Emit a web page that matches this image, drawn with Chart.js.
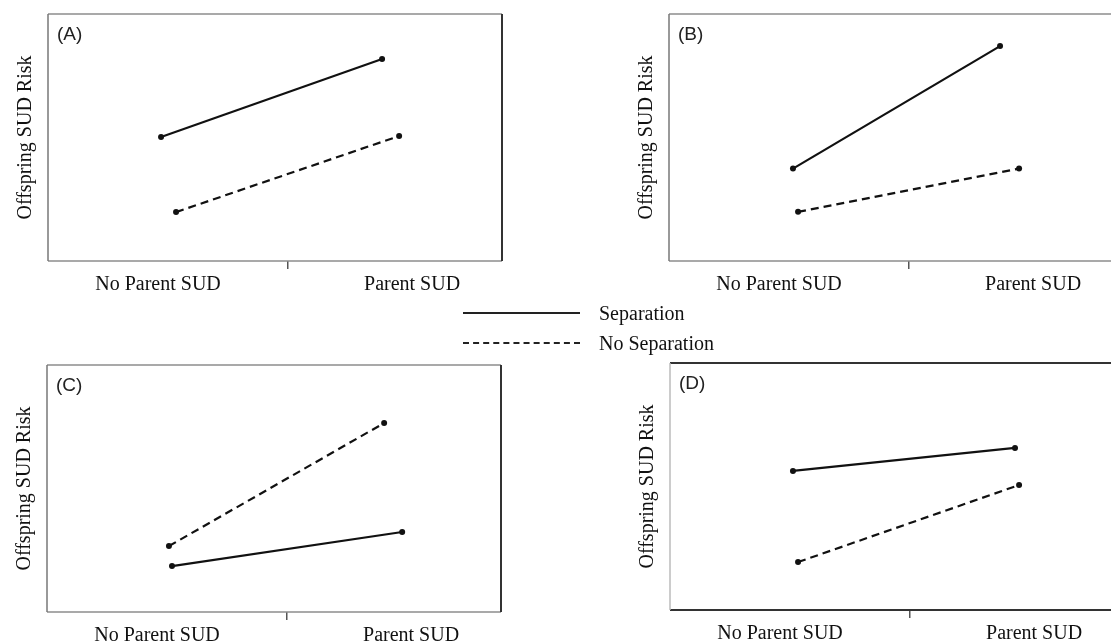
<!DOCTYPE html>
<html>
<head>
<meta charset="utf-8">
<script src="https://cdn.jsdelivr.net/npm/chart.js@4/dist/chart.umd.min.js"></script>
<style>
  html, body { margin: 0; padding: 0; background: #fff; }
  body { width: 1111px; height: 643px; position: relative; overflow: hidden; }
  .panel { position: absolute; width: 510px; height: 300px; }
  .legend { position: absolute; left: 463px; font-family: "Liberation Serif", "Times New Roman", serif; font-size: 20px; color: #111; }
  .legend .row { position: absolute; left: 0; white-space: nowrap; }
  .legend .swatch { position: absolute; left: 0; width: 117px; height: 0; }
  .legend .txt { position: absolute; left: 136px; top: -10px; }
</style>
</head>
<body>
<div class="panel" style="left:0;top:0"><canvas id="chartA" width="510" height="300"></canvas></div>
<div class="panel" style="left:621px;top:0"><canvas id="chartB" width="510" height="300"></canvas></div>
<div class="panel" style="left:-1px;top:351px"><canvas id="chartC" width="510" height="300"></canvas></div>
<div class="panel" style="left:622px;top:349px"><canvas id="chartD" width="510" height="300"></canvas></div>
<div class="legend" style="top:0">
  <div class="row" style="top:312px"><div class="swatch" style="border-top:2px solid #222"></div><span class="txt">Separation</span></div>
  <div class="row" style="top:342px"><div class="swatch" style="border-top:2px dashed #222"></div><span class="txt">No Separation</span></div>
</div>
<script>
const categories = ['No Parent SUD', 'Parent SUD'];
const seriesNames = ['Separation', 'No Separation'];
const panelLabels = ['(A)', '(B)', '(C)', '(D)'];
const yTitle = 'Offspring SUD Risk';

// x positions (0 = No Parent SUD, 1 = Parent SUD), slightly dodged like the original
const xSepA = [0.012, 0.882];
const xNoSepA = [0.071, 0.949];
const xSepB = [0.055, 0.870];
const xNoSepB = [0.075, 0.945];
const xSepC = [0.059, 0.965];
const xNoSepC = [0.047, 0.894];
const xSepD = [0.051, 0.925];
const xNoSepD = [0.071, 0.941];

// risk values on a 0-10 scale (no ticks shown in the original)
const sepA = [5.02, 8.18];
const noSepA = [1.98, 5.06];
const sepB = [3.74, 8.70];
const noSepB = [1.99, 3.74];
const sepC = [1.86, 3.24];
const noSepC = [2.67, 7.65];
const sepD = [5.63, 6.56];
const noSepD = [1.94, 5.06];

const serif = '"Liberation Serif", "Times New Roman", serif';

const boxPlugin = {
    id: 'panelBox',
    afterDraw(chart, args, opts) {
        const { ctx, chartArea: a } = chart;
        ctx.save();
        const side = (x1, y1, x2, y2, color, width) => {
            ctx.beginPath();
            ctx.strokeStyle = color;
            ctx.lineWidth = width;
            ctx.moveTo(x1, y1);
            ctx.lineTo(x2, y2);
            ctx.stroke();
        };
        side(a.left, a.top, a.right, a.top, opts.top, opts.topW);
        side(a.left, a.bottom, a.right, a.bottom, opts.bottom, opts.bottomW);
        side(a.left, a.top, a.left, a.bottom, opts.left, 1.5);
        side(a.right, a.top, a.right, a.bottom, opts.right, 2);
        ctx.font = '19px "Liberation Sans", Arial, sans-serif';
        ctx.fillStyle = '#222';
        ctx.textBaseline = 'middle';
        ctx.fillText(opts.label, a.left + 9, a.top + 21);
        ctx.restore();
    }
};

function makePanel(id, label, xSep, sep, xNoSep, noSep, box) {
    const toPts = (xs, ys) => xs.map((x, i) => ({ x: x, y: ys[i] }));
    new Chart(document.getElementById(id), {
        type: 'line',
        data: {
            datasets: [
                { label: seriesNames[0], data: toPts(xSep, sep), borderColor: '#111', backgroundColor: '#111', borderWidth: 2.2, pointRadius: 3, pointBorderWidth: 0 },
                { label: seriesNames[1], data: toPts(xNoSep, noSep), borderColor: '#111', backgroundColor: '#111', borderWidth: 2.2, borderDash: [8, 5], pointRadius: 3, pointBorderWidth: 0 },
            ]
        },
        options: {
            responsive: false,
            animation: false,
            layout: { padding: { top: 14, right: 8, left: 0, bottom: 0 } },
            plugins: {
                legend: { display: false },
                tooltip: { enabled: false },
                panelBox: Object.assign({ label: label }, box),
            },
            scales: {
                x: {
                    type: 'linear',
                    min: -0.433,
                    max: 1.354,
                    afterFit: (s) => { s.height = 39; },
                    afterBuildTicks: (s) => { s.ticks = [{ value: 0 }, { value: 0.51 }, { value: 1 }]; },
                    ticks: {
                        autoSkip: false,
                        maxRotation: 0,
                        padding: 4,
                        color: '#111',
                        font: { family: serif, size: 20 },
                        callback: (v) => v === 0 ? categories[0] : (v === 1 ? categories[1] : ''),
                    },
                    grid: {
                        drawOnChartArea: false,
                        drawTicks: true,
                        tickLength: 8,
                        lineWidth: 1.5,
                        color: (c) => (c.tick && c.tick.value === 0.51) ? '#555' : 'rgba(0,0,0,0)',
                    },
                    border: { display: false },
                },
                y: {
                    min: 0,
                    max: 10,
                    afterFit: (s) => { s.width = 48; },
                    ticks: { display: false },
                    grid: { display: false },
                    border: { display: false },
                    title: {
                        display: true,
                        text: yTitle,
                        color: '#111',
                        font: { family: serif, size: 20, lineHeight: 1.2 },
                        padding: { top: 14, bottom: 0 },
                    },
                },
            },
        },
        plugins: [boxPlugin],
    });
}

const lightBox = { top: '#8c8c8c', topW: 1.5, bottom: '#8c8c8c', bottomW: 1.5, left: '#777', right: '#333' };
const darkBox = { top: '#333', topW: 2, bottom: '#333', bottomW: 2, left: '#bbb', right: '#333' };

makePanel('chartA', panelLabels[0], xSepA, sepA, xNoSepA, noSepA, lightBox);
makePanel('chartB', panelLabels[1], xSepB, sepB, xNoSepB, noSepB, lightBox);
makePanel('chartC', panelLabels[2], xSepC, sepC, xNoSepC, noSepC, lightBox);
makePanel('chartD', panelLabels[3], xSepD, sepD, xNoSepD, noSepD, darkBox);
</script>
</body>
</html>
